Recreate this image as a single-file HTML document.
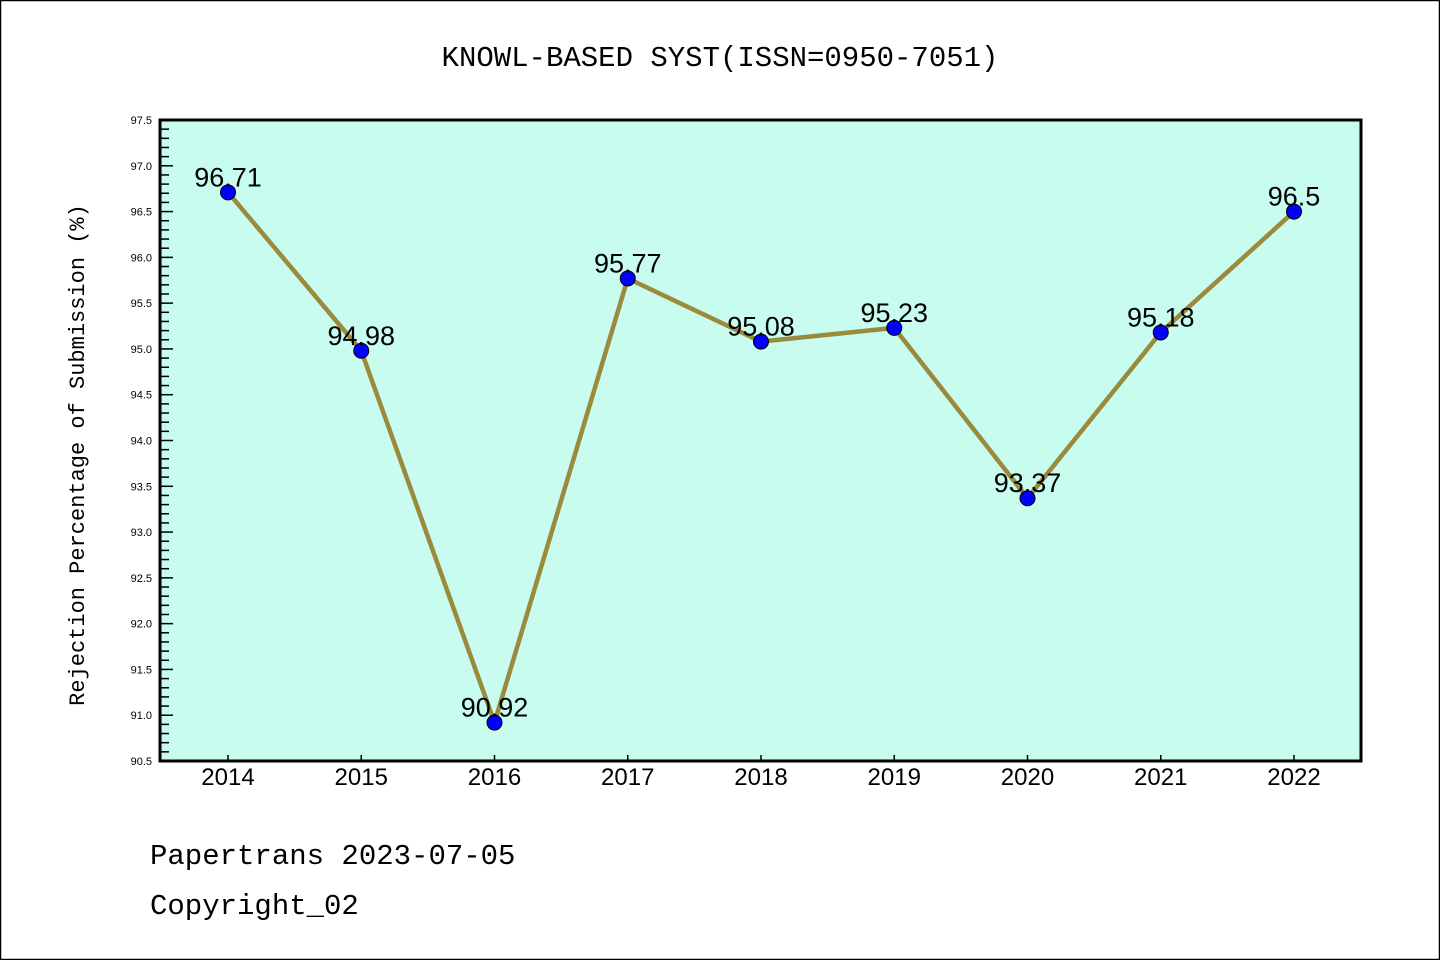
<!DOCTYPE html>
<html><head><meta charset="utf-8"><style>
html,body{margin:0;padding:0;background:#fff;}
svg{display:block;font-family:"Liberation Sans","WenQuanYi Zen Hei",sans-serif;}
</style></head><body>
<svg id="chart" width="1440" height="960" xmlns="http://www.w3.org/2000/svg">
<rect x="0.5" y="0.5" width="1439" height="959" fill="#fff" stroke="#000" stroke-width="1.5"/>
<text x="720" y="66" font-size="29" text-anchor="middle" font-family="Liberation Mono, WenQuanYi Zen Hei, monospace">KNOWL-BASED SYST(ISSN=0950-7051)</text>
<rect x="160" y="120" width="1201" height="641" fill="#c7fcee"/>
<g id="ticks"></g>
<g id="series"></g>
<rect x="160" y="120" width="1201" height="641" fill="none" stroke="#000" stroke-width="3"/>
<text transform="translate(84,455) rotate(-90)" font-size="22" text-anchor="middle" font-family="Liberation Mono, monospace">Rejection Percentage of Submission (%)</text>
<text x="150" y="864" font-size="29" font-family="Liberation Mono, monospace">Papertrans 2023-07-05</text>
<text x="150" y="914" font-size="29" font-family="Liberation Mono, monospace">Copyright_02</text>
</svg>
<script>
const years = ["2014","2015","2016","2017","2018","2019","2020","2021","2022"];
const values = [96.71,94.98,90.92,95.77,95.08,95.23,93.37,95.18,96.5];
const valueLabels = ["96.71","94.98","90.92","95.77","95.08","95.23","93.37","95.18","96.5"];
const yTickLabels = ["90.5","91.0","91.5","92.0","92.5","93.0","93.5","94.0","94.5","95.0","95.5","96.0","96.5","97.0","97.5"];
const yMin = 90.5, yMax = 97.5;
const NS = "http://www.w3.org/2000/svg";
function yPos(v){ return 761 - (v - yMin) / (yMax - yMin) * 641; }
function xPos(i){ return 228 + i * 133.25; }
function mk(tag, attrs, parent){ const e=document.createElementNS(NS,tag); for(const k in attrs) e.setAttribute(k,attrs[k]); parent.appendChild(e); return e; }
const tg = document.getElementById('ticks');
for (let k = 0; k <= 70; k++) {
  const v = yMin + k * 0.1;
  const major = k % 5 === 0;
  const t = mk('line', {x1:160, x2:160 + (major ? 13 : 9), y1:yPos(v), y2:yPos(v), stroke:'#000', 'stroke-width':1.5}, tg);
  
  
}
yTickLabels.forEach(function(l){
  const t = mk('text', {x:152, y:yPos(parseFloat(l)) + 4, 'font-size':11, 'text-anchor':'end'}, tg);
  t.textContent = l;
  
  
});
years.forEach(function(y, i){
  const t = mk('line', {x1:xPos(i), x2:xPos(i), y1:761, y2:755, stroke:'#000', 'stroke-width':1.5}, tg);
  
  
  const l = mk('text', {x:xPos(i), y:785, 'font-size':24, 'text-anchor':'middle'}, tg);
  l.textContent = y;
  
  
});
const sg = document.getElementById('series');
const pts = values.map(function(v, i){ return xPos(i) + ',' + yPos(v); }).join(' ');
const line = mk('polyline', {points:pts, fill:'none', stroke:'#9a8a3c', 'stroke-width':4.5, 'stroke-linejoin':'round'}, sg);


values.forEach(function(v, i){
  const c = mk('circle', {cx:xPos(i), cy:yPos(v), r:7.5, fill:'#0000ff', stroke:'#000', 'stroke-width':1}, sg);
  
  
  const t = mk('text', {x:xPos(i), y:yPos(v) - 6, 'font-size':27, 'text-anchor':'middle'}, sg);
  t.textContent = valueLabels[i];
  
  
});
</script>
</body></html>
